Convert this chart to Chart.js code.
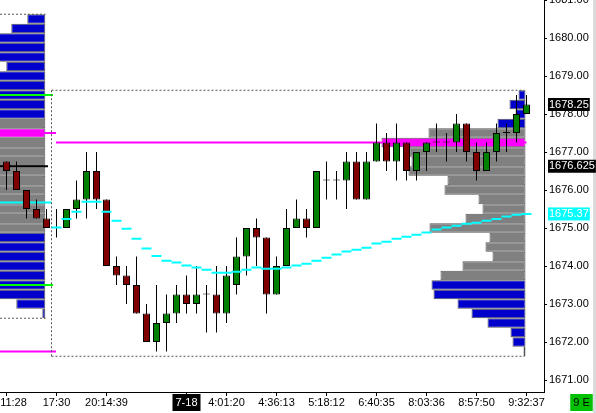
<!DOCTYPE html>
<html><head><meta charset="utf-8">
<script src="https://cdn.jsdelivr.net/npm/chart.js@4.4.1/dist/chart.umd.min.js"></script>
<style>
html,body{margin:0;padding:0;background:#fff;overflow:hidden}
#wrap{position:relative;width:596px;height:413px}
#edge{position:absolute;left:593px;top:0;width:3px;height:413px;background:#dadada}
canvas{position:absolute;left:0;top:0}
</style></head><body>
<div id="wrap"><div id="edge"></div><canvas id="c" width="596" height="413"></canvas></div>
<script>
// ---------- data ----------
const candleOpen  = [1676.75,1676.50,1676.00,1675.50,1675.25,1675.00,1675.00,1675.50,1675.75,1676.50,
                     1675.75,1674.00,1673.75,1673.50,1672.75,1672.00,1672.50,1672.75,1673.25,1673.00,
                     1673.25,1673.25,1672.75,1673.50,1674.25,1675.00,1674.75,1673.25,1674.00,1675.00,
                     1675.25,1675.00,1676.25,1676.25,1676.25,1676.75,1675.75,1676.75,1677.25,1676.75,
                     1677.25,1676.50,1677.00,1677.25,1677.25,1677.25,1677.75,1677.00,1676.50,1677.00,
                     1677.50,1677.50,1678.00];
const candleHigh  = [1676.75,1676.75,1676.00,1675.75,1675.50,1675.50,1675.50,1676.25,1677.00,1677.00,
                     1675.75,1674.25,1674.00,1674.25,1673.00,1673.50,1673.25,1673.50,1673.75,1674.00,
                     1673.50,1674.00,1674.00,1674.75,1675.00,1675.25,1674.75,1674.25,1675.50,1675.75,
                     1675.50,1676.50,1676.75,1676.50,1677.00,1677.00,1677.00,1677.75,1677.50,1677.75,
                     1677.25,1677.00,1677.25,1677.75,1677.50,1678.00,1677.75,1677.25,1677.25,1677.75,
                     1677.75,1678.50,1678.50];
const candleLow   = [1676.00,1676.00,1675.25,1675.25,1675.00,1674.75,1675.00,1675.25,1675.25,1675.50,
                     1674.00,1673.50,1673.00,1672.75,1672.00,1671.75,1671.75,1672.50,1672.75,1672.75,
                     1672.25,1672.25,1672.50,1673.25,1673.75,1674.00,1672.75,1673.25,1674.00,1675.00,
                     1674.75,1675.00,1675.75,1675.75,1675.50,1675.75,1675.75,1676.75,1676.50,1676.25,
                     1676.25,1676.25,1676.50,1677.00,1676.75,1677.00,1676.75,1676.25,1676.50,1676.75,
                     1677.00,1677.25,1678.00];
const candleClose = [1676.50,1676.00,1675.50,1675.25,1675.00,1675.00,1675.50,1675.75,1676.50,1675.75,
                     1674.00,1673.75,1673.50,1672.75,1672.00,1672.50,1672.75,1673.25,1673.00,1673.25,
                     1673.25,1672.75,1673.75,1674.25,1675.00,1674.75,1673.25,1674.00,1675.00,1675.25,
                     1675.00,1676.50,1676.25,1676.25,1676.75,1675.75,1676.75,1677.25,1676.75,1677.25,
                     1676.50,1677.00,1677.25,1677.25,1677.25,1677.75,1677.00,1676.50,1677.00,1677.50,
                     1677.50,1678.00,1678.25];
const vwap = [null,null,null,null,null,1675.01,1675.24,1675.43,1675.69,1675.69,
              1675.43,1675.19,1674.98,1674.72,1674.46,1674.26,1674.14,1674.09,1674.01,1673.96,
              1673.90,1673.82,1673.82,1673.85,1673.90,1673.96,1673.93,1673.93,1673.96,1674.01,
              1674.06,1674.14,1674.22,1674.30,1674.38,1674.43,1674.48,1674.59,1674.64,1674.72,
              1674.77,1674.82,1674.88,1674.96,1675.01,1675.06,1675.11,1675.14,1675.19,1675.24,
              1675.30,1675.35,1675.37];

// volume profiles (price rows, volume)
const leftProfilePrice = [1680.50,1680.25,1680.00,1679.75,1679.50,1679.25,1679.00,1678.75,1678.50,1678.25,
                          1678.00,1677.75,1677.50,1677.25,1677.00,1676.75,1676.50,1676.25,1676.00,1675.75,
                          1675.50,1675.25,1675.00,1674.75,1674.50,1674.25,1674.00,1673.75,1673.50,1673.25,
                          1673.00,1672.75];
const leftProfileVolume = [18,34,70,75,72,39,80,85,90,88,95,110,130,120,115,118,112,105,100,108,
                           102,96,92,85,80,78,76,70,66,58,29,3];
const rightProfilePrice = [1678.50,1678.25,1678.00,1677.75,1677.50,1677.25,1677.00,1676.75,1676.50,1676.25,
                           1676.00,1675.75,1675.50,1675.25,1675.00,1674.75,1674.50,1674.25,1674.00,1673.75,
                           1673.50,1673.25,1673.00,1672.75,1672.50,1672.25,1672.00,1671.75];
const rightProfileVolume = [7,16,10,28,97,144,116,114,117,78,81,47,43,60,96,36,40,33,63,85,
                            94,92,68,54,38,15,13,2];
const profileAnchor = [3.88, 51.9];          // bar index where each profile is right-aligned
const valueAreaLow  = [1675.00, 1673.75];
const valueAreaHigh = [1677.75, 1677.50];
const pocPrice      = [1677.50, 1677.25];

// reference level lines
const levelPrice = [1678.50, 1673.50, 1677.50, 1671.75, 1676.625, 1675.67, 1677.25];
const levelStart = [-0.65, -0.65, -0.65, -0.65, -0.65, -0.65, 4.95];
const levelEnd   = [4.65, 4.65, 4.95, 4.95, 4.15, 4.52, 52.0];
const levelKind  = ['green','green','magenta','magenta','black','cyan','magenta'];

// session range boxes (dashed)
const boxHigh  = [1680.625, 1678.625];
const boxLow   = [1672.625, 1671.625];
const boxStart = [-0.65, 4.5];
const boxEnd   = [3.9, 51.8];
const boxLeftEdge = [false, true];

// axis ticks
const xTickIndex  = [0, 0.7, 5, 10, 18, 22, 27, 32, 37, 42, 47, 52, 57.5];
const xTickLabels = ['', '11:28', '17:30', '20:14:39', '7-18', '4:01:20', '4:36:13', '5:18:12', '6:40:35', '8:03:36', '8:57:50', '9:32:37', '9 E'];
const yTickValues = [1671,1672,1673,1674,1675,1676,1677,1678,1679,1680,1681];
const priceMarkerValues = [1678.25, 1676.625, 1675.37];
const priceMarkerLabels = ['1678.25', '1676.625', '1675.37'];

// ---------- styles ----------
const C_GREEN = '#008000', C_RED = '#800000', C_BLUE = '#0000cc', C_GRAY = '#808080', C_MAG = '#ff00ff';
const kindColor = {green:'#00ff00', magenta:C_MAG, black:'#000000', cyan:'#00ffff'};
const FONT = {family:'"Liberation Sans", Arial, sans-serif', size:11, lineHeight:1};
const X_MIN = -0.65, X_MAX = 53.75, Y_MAX = 1681, Y_MIN = 1681 - 392/38;
const VOL_UNIT = 0.1;

const datasets = [];

// candles
datasets.push({
  type:'bar', label:'body', order:4,
  data: candleOpen.map((o,i)=>({x:i, y:[o, candleClose[i]]})),
  backgroundColor: candleOpen.map((o,i)=> candleClose[i] >= o ? C_GREEN : C_RED),
  borderColor:'#000', borderWidth:1, borderSkipped:false,
  barThickness:7, grouped:false, minBarLength:1, inflateAmount:0
});
datasets.push({
  type:'bar', label:'wick', order:5,
  data: candleLow.map((l,i)=>({x:i, y:[l, candleHigh[i]]})),
  backgroundColor:'#000', borderWidth:0, barThickness:1, grouped:false, inflateAmount:0
});

// profiles
[[leftProfilePrice,leftProfileVolume],[rightProfilePrice,rightProfileVolume]].forEach(([pr,vol],k)=>{
  datasets.push({
    type:'bar', indexAxis:'y', label:'profile'+k, order:10,
    data: pr.map((p,j)=>({y:p, x:[profileAnchor[k]-vol[j]*VOL_UNIT, profileAnchor[k]]})),
    backgroundColor: pr.map(p => p===pocPrice[k] ? C_MAG : (p>=valueAreaLow[k] && p<=valueAreaHigh[k] ? C_GRAY : C_BLUE)),
    borderColor:'#555555', borderWidth:1, borderSkipped:false,
    barThickness:9.5, grouped:false, inflateAmount:0
  });
});

// level lines
levelPrice.forEach((p,k)=>{
  datasets.push({
    type:'line', label:'level'+k, order:8,
    data:[{x:levelStart[k], y:p},{x:levelEnd[k], y:p}],
    borderColor:kindColor[levelKind[k]], borderWidth:2, pointRadius:0, tension:0, fill:false
  });
});

// dashed boxes
boxHigh.forEach((h,k)=>{
  const segs = [[{x:boxStart[k],y:h},{x:boxEnd[k],y:h}], [{x:boxStart[k],y:boxLow[k]},{x:boxEnd[k],y:boxLow[k]}]];
  if (boxLeftEdge[k]) segs.push([{x:boxStart[k],y:h},{x:boxStart[k],y:boxLow[k]}]);
  segs.forEach((s,j)=>datasets.push({
    type:'line', label:'box'+k+'_'+j, order:7, data:s,
    borderColor:'#555555', borderWidth:1, borderDash:[2,2], pointRadius:0, tension:0, fill:false
  }));
});

// vwap steps
const vwapPts = [];
vwap.forEach((v,i)=>{ if (v!==null){ vwapPts.push({x:i-0.5,y:v},{x:i+0.5,y:v},{x:i+0.5,y:null}); } });
datasets.push({
  type:'line', label:'vwap', order:1, data:vwapPts, spanGaps:false,
  borderColor:'#00ffff', borderWidth:2, pointRadius:0, tension:0, fill:false
});

const noPad = s => { s.paddingLeft=0; s.paddingRight=0; s.paddingTop=0; s.paddingBottom=0; };

new Chart(document.getElementById('c'), {
  type:'bar',
  data:{datasets},
  options:{
    responsive:false, animation:false, devicePixelRatio:1,
    layout:{padding:0},
    plugins:{legend:{display:false}, tooltip:{enabled:false}, title:{display:false}},
    scales:{
      x:{
        type:'linear', position:'bottom', min:X_MIN, max:X_MAX, offset:false,
        grid:{drawOnChartArea:false, drawTicks:true, tickLength:4, offset:false,
              tickColor: c => (c.tick && c.tick.mark) ? '#000' : 'rgba(0,0,0,0)'},
        border:{display:true, color:'#000', width:1},
        afterBuildTicks: s => {
          s.ticks = xTickIndex.map((v,k)=>({value:v, txt:xTickLabels[k],
            mark: xTickLabels[k] !== '11:28' && xTickLabels[k] !== '9 E',
            fg: xTickLabels[k]==='7-18' ? '#fff' : '#000',
            bg: xTickLabels[k]==='7-18' ? '#000' : (xTickLabels[k]==='9 E' ? '#00c000' : null)}));
        },
        afterFit: s => { s.height = 21; noPad(s); },
        ticks:{
          autoSkip:false, maxRotation:0, minRotation:0, padding:1, font:FONT,
          callback:(v,i,t)=> t[i].txt,
          color: c => c.tick ? c.tick.fg : '#000',
          showLabelBackdrop: c => !!(c.tick && c.tick.bg),
          backdropColor: c => (c.tick && c.tick.bg) || 'rgba(0,0,0,0)',
          backdropPadding: {x:3, y:3}
        }
      },
      y:{
        type:'linear', position:'right', min:Y_MIN, max:Y_MAX, offset:false,
        grid:{drawOnChartArea:false, drawTicks:true, tickLength:3, offset:false,
              tickColor: c => (c.tick && c.tick.mark) ? '#000' : 'rgba(0,0,0,0)'},
        border:{display:true, color:'#000', width:1},
        afterBuildTicks: s => {
          const t = yTickValues.map(v=>({value:v, txt:v.toFixed(2), mark:true, fg:'#000', bg:null}));
          priceMarkerValues.forEach((v,k)=>t.push({value:v, txt:priceMarkerLabels[k], mark:false, fg:'#fff',
             bg: k===2 ? '#00ffff' : '#000'}));
          s.ticks = t;
        },
        afterFit: s => { s.width = 52; noPad(s); },
        ticks:{
          autoSkip:false, padding:2, font:FONT,
          callback:(v,i,t)=> t[i].txt,
          color: c => c.tick ? c.tick.fg : '#000',
          showLabelBackdrop: c => !!(c.tick && c.tick.bg),
          backdropColor: c => (c.tick && c.tick.bg) || 'rgba(0,0,0,0)',
          backdropPadding:{x:1,y:1}
        }
      }
    }
  }
});
</script>
</body></html>
